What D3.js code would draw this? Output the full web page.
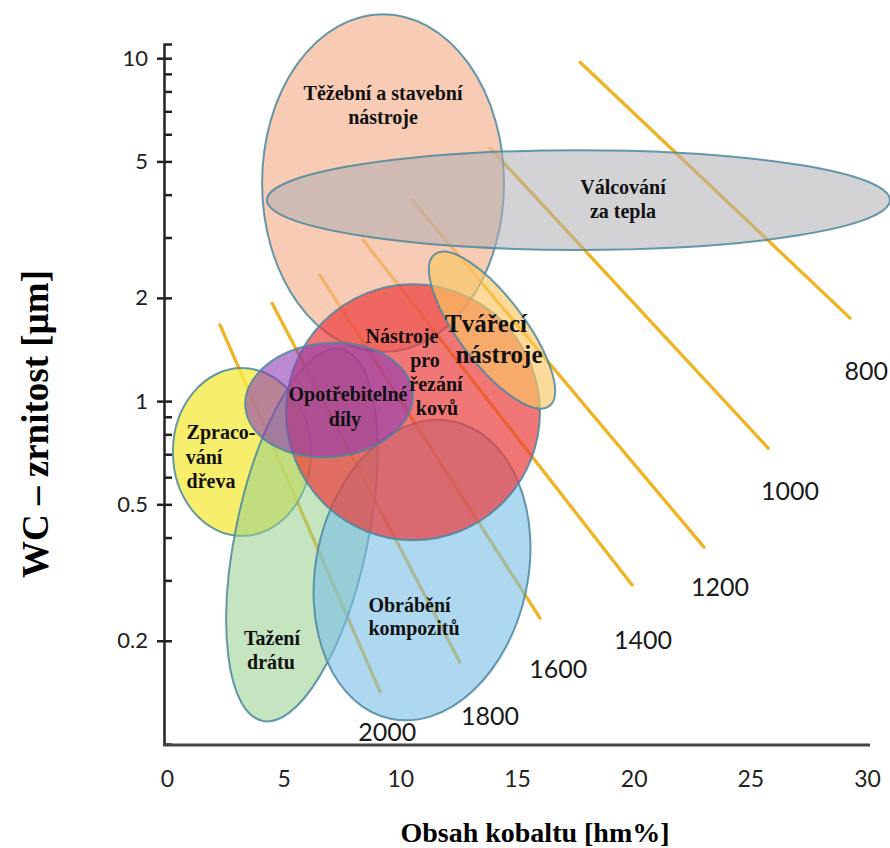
<!DOCTYPE html>
<html>
<head>
<meta charset="utf-8">
<script src="https://cdn.jsdelivr.net/npm/d3@7"></script>
<style>
  body { margin: 0; background: #fff; }
  svg { display: block; }
</style>
</head>
<body>
<svg id="chart" width="890" height="848"></svg>
<script>
// Application areas of cemented carbides: cobalt content vs. WC grain size,
// with iso-hardness lines (HV).

// ---- data ---------------------------------------------------------------
const regionNames = [
  "Těžební a stavební nástroje", "Válcování za tepla", "Zpracování dřeva",
  "Tažení drátu", "Obrábění kompozitů", "Nástroje pro řezání kovů",
  "Opotřebitelné díly", "Tvářecí nástroje"
];
// extent of each (unrotated) region: cobalt content [hm%] and grain size [µm]
const regionCo    = [[4.16, 14.53], [4.37, 31.07], [0.34, 6.26], [3.04, 8.70],
                     [6.47, 15.56], [5.19, 16.07], [3.43, 10.63], [9.94, 18.09]];
const regionGrain = [[1.39, 13.44], [2.76, 5.39], [0.404, 1.248], [0.1136, 1.457],
                     [0.1159, 0.892], [0.393, 2.19], [0.687, 1.476], [1.29, 2.01]];
const regionTilt  = [0, 0, 0, 12, 12, 0, -5, 53];

// iso-hardness lines
const hardness   = [800, 1000, 1200, 1400, 1600, 1800, 2000];
const isoStart   = [[17.79, 9.73], [13.93, 5.47], [10.59, 3.855], [8.49, 2.95],
                    [6.64, 2.33], [4.59, 1.93], [2.36, 1.666]];
const isoEnd     = [[29.36, 1.746], [25.85, 0.729], [23.10, 0.375], [20.02, 0.291],
                    [16.07, 0.233], [12.64, 0.173], [9.22, 0.142]];
const isoLabelAt = [[30.05, 1.231], [26.79, 0.550], [23.79, 0.289], [20.49, 0.202],
                    [16.85, 0.1665], [13.93, 0.1215], [9.52, 0.109]];

// region captions, one entry per text line
const captionText = [
  "Těžební a stavební", "nástroje", "Válcování", "za tepla",
  "Tvářecí", "nástroje",
  "Nástroje", "pro", "řezání", "kovů",
  "Opotřebitelné", "díly",
  "Zpraco-", "vání", "dřeva",
  "Tažení", "drátu",
  "Obrábění", "kompozitů"
];
const captionCo    = [9.343, 9.343, 19.629, 19.629, 13.757, 14.314, 10.157, 11.143, 11.614, 11.657,
                      7.843, 7.714, 2.40, 1.671, 1.971, 4.586, 4.543, 10.479, 10.671];
const captionGrain = [7.907, 6.730, 4.206, 3.580, 1.688, 1.371, 1.547, 1.317, 1.121, 0.954,
                      1.048, 0.886, 0.812, 0.687, 0.584, 0.2038, 0.1734, 0.2543, 0.2179];
const captionLarge = [false, false, false, false, true, true, false, false, false, false,
                      false, false, false, false, false, false, false, false, false];

// axis ticks
const xTicks      = [0, 5, 10, 15, 20, 25, 30];
const yMajorTicks = [0.2, 0.5, 1, 2, 5, 10];
const yMinorTicks = [0.3, 0.4, 0.6, 0.7, 0.8, 0.9, 3, 4, 6, 7, 8, 9];

// ---- styles -------------------------------------------------------------
const regionFill = [
  "rgba(245,178,145,0.68)",  // těžební
  "rgba(175,175,180,0.55)",  // válcování
  "rgba(245,235,70,0.80)",   // dřevo
  "rgba(150,205,140,0.55)",  // drát
  "rgba(120,190,230,0.60)",  // kompozity
  "rgba(235,60,60,0.70)",    // řezání kovů
  "rgba(140,60,180,0.60)",   // opotřebitelné díly
  "rgba(250,200,100,0.65)"   // tvářecí
];
const outline = "#4a87a0";
const isoColor = "#f0b323";
const serif = "'Liberation Serif','Times New Roman',serif";
const sans = "Lato,'Open Sans',sans-serif";

// ---- scales -------------------------------------------------------------
const svg = d3.select("#chart");
svg.append("rect").attr("width", 890).attr("height", 848).attr("fill", "#fff");

const x = d3.scaleLinear().domain([0, 30]).range([165, 865]);
const y = d3.scaleLog().domain([0.1, 11]).range([744, 44]);
const axisX = 164;

// ---- iso-hardness lines (beneath the regions) ---------------------------
const line = d3.line().x(d => x(d[0])).y(d => y(d[1]));
svg.append("g").selectAll("path")
  .data(hardness.map((h, i) => [isoStart[i], isoEnd[i]]))
  .join("path")
  .attr("d", line)
  .attr("fill", "none")
  .attr("stroke", isoColor)
  .attr("stroke-width", 3.3)
  .attr("stroke-linecap", "round");

svg.append("g").selectAll("text")
  .data(hardness)
  .join("text")
  .attr("x", (d, i) => x(isoLabelAt[i][0]))
  .attr("y", (d, i) => y(isoLabelAt[i][1]))
  .attr("text-anchor", "middle")
  .attr("dominant-baseline", "central")
  .attr("font-family", sans)
  .attr("font-size", 25)
  .attr("fill", "#1a1a1a")
  .text(d => d);

// ---- application regions ------------------------------------------------
const regions = regionNames.map((name, i) => {
  const x0 = x(regionCo[i][0]), x1 = x(regionCo[i][1]);
  const yTop = y(regionGrain[i][1]), yBot = y(regionGrain[i][0]);
  return {
    name,
    cx: (x0 + x1) / 2, cy: (yTop + yBot) / 2,
    rx: (x1 - x0) / 2, ry: (yBot - yTop) / 2,
    tilt: regionTilt[i], fill: regionFill[i]
  };
});

svg.append("g").selectAll("ellipse")
  .data(regions)
  .join("ellipse")
  .attr("cx", d => d.cx)
  .attr("cy", d => d.cy)
  .attr("rx", d => d.rx)
  .attr("ry", d => d.ry)
  .attr("transform", d => `rotate(${d.tilt},${d.cx},${d.cy})`)
  .attr("fill", d => d.fill)
  .attr("stroke", outline)
  .attr("stroke-opacity", 0.85)
  .attr("stroke-width", 2);

// ---- region captions ----------------------------------------------------
svg.append("g").selectAll("text")
  .data(captionText)
  .join("text")
  .attr("x", (d, i) => x(captionCo[i]))
  .attr("y", (d, i) => y(captionGrain[i]))
  .attr("text-anchor", "middle")
  .attr("dominant-baseline", "central")
  .attr("font-family", serif)
  .attr("font-weight", "bold")
  .attr("font-size", (d, i) => captionLarge[i] ? 25 : 20)
  .attr("fill", "#111")
  .text(d => d);

// ---- axes ---------------------------------------------------------------
// y axis: all ticks on the right, labelled ticks also cross to the left
const yRight = svg.append("g").attr("transform", `translate(${axisX},0)`)
  .call(d3.axisRight(y).tickValues(yMajorTicks.concat(yMinorTicks))
    .tickSize(8).tickSizeOuter(8).tickFormat(""));
const yLeft = svg.append("g").attr("transform", `translate(${axisX},0)`)
  .call(d3.axisLeft(y).tickValues(yMajorTicks)
    .tickSize(7).tickSizeOuter(0).tickPadding(9).tickFormat(d3.format("~g")));
yLeft.select(".domain").remove();
[yRight, yLeft].forEach(g => {
  g.selectAll("path,line").attr("stroke", "#222").attr("stroke-width", 2.5);
});
yLeft.selectAll("text")
  .attr("font-family", sans).attr("font-size", 22).attr("fill", "#222");

// x axis: line only, with labels
const xAxis = svg.append("g").attr("transform", `translate(0,${y(0.1) + 1})`)
  .call(d3.axisBottom(x).tickValues(xTicks).tickSize(0).tickPadding(26)
    .tickFormat(d3.format("~g")));
xAxis.select(".domain")
  .attr("d", `M${axisX - 1},0H${x.range()[1] + 5}`)
  .attr("stroke", "#444").attr("stroke-width", 3);
xAxis.selectAll("text")
  .attr("font-family", sans).attr("font-size", 23).attr("fill", "#222")
  .attr("dx", 2);

// axis titles
svg.append("text")
  .attr("x", 535).attr("y", 842)
  .attr("text-anchor", "middle")
  .attr("font-family", serif).attr("font-weight", "bold").attr("font-size", 28)
  .attr("fill", "#000")
  .text("Obsah kobaltu [hm%]");

svg.append("text")
  .attr("transform", "translate(48,424) rotate(-90)")
  .attr("text-anchor", "middle")
  .attr("font-family", serif).attr("font-weight", "bold").attr("font-size", 37)
  .attr("fill", "#000")
  .text("WC – zrnitost [µm]");
</script>
</body>
</html>
